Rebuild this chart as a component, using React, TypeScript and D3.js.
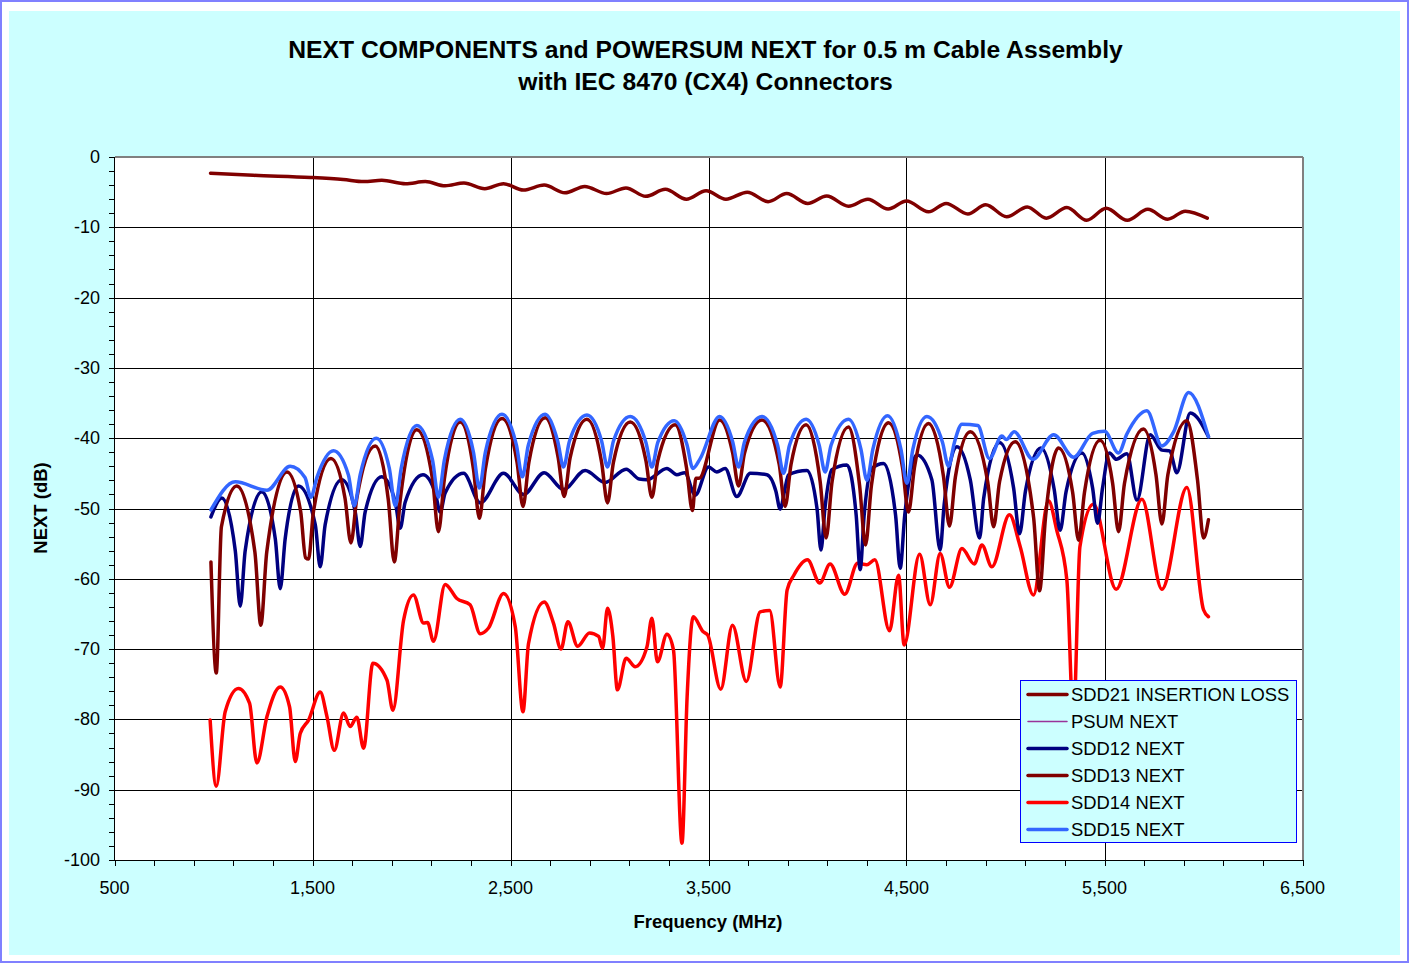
import React from 'react';
import * as d3 from 'd3';

// ---------- DATA (frequency MHz, dB) ----------
const xTicks = [500, 1500, 2500, 3500, 4500, 5500, 6500];
const yTicks = [0, -10, -20, -30, -40, -50, -60, -70, -80, -90, -100];

const sdd21: [number, number][] = [
  [985,-2.3],[1200,-2.6],[1490,-2.9],[1655,-3.2],[1760,-3.5],[1850,-3.3],[1970,-3.8],[2070,-3.5],[2170,-4.1],[2265,-3.7],
  [2370,-4.5],[2465,-3.8],[2565,-4.7],[2670,-4.0],[2775,-5.1],[2875,-4.2],[2985,-5.2],[3083,-4.4],[3183,-5.6],[3282,-4.6],
  [3388,-6.0],[3488,-4.8],[3588,-6.0],[3696,-5.0],[3801,-6.35],[3895,-5.2],[4001,-6.6],[4097,-5.55],[4207,-7.0],[4305,-6.0],
  [4407,-7.4],[4500,-6.25],[4611,-7.8],[4700,-6.6],[4810,-8.1],[4900,-6.8],[5006,-8.5],[5110,-7.1],[5206,-8.7],[5310,-7.2],
  [5410,-9.0],[5509,-7.3],[5615,-9.0],[5719,-7.45],[5819,-8.85],[5908,-7.7],[6019,-8.7]
];

const psumNext: [number, number][] = [];

const sdd12: [number, number][] = [
  [987,-51.2],[1042,-48.5],[1110,-56.0],[1135,-63.9],[1160,-56.0],[1244,-47.6],[1312,-54.3],[1337,-61.4],[1362,-54.3],[1429,-46.8],
  [1514,-52.3],[1539,-58.3],[1564,-52.3],[1648,-45.9],[1716,-50.5],[1741,-55.4],[1766,-50.5],[1850,-45.5],[1918,-49.1],[1943,-52.8],
  [1968,-49.1],[2058,-45.2],[2120,-47.8],[2145,-50.5],[2170,-47.8],[2263,-45.0],[2347,-49.2],[2465,-45.0],[2566,-48.0],[2670,-44.9],
  [2768,-47.3],[2877,-44.6],[2978,-46.3],[3084,-44.4],[3150,-45.8],[3189,-45.9],[3290,-44.3],[3340,-45.2],[3380,-44.9],[3433,-48.1],
  [3500,-44.1],[3542,-44.8],[3584,-44.3],[3643,-48.3],[3711,-45.0],[3795,-45.2],[3840,-47.5],[3862,-50.1],[3884,-47.5],[3904,-45.2],
  [3997,-44.6],[4048,-50.0],[4068,-55.9],[4088,-50.0],[4123,-44.5],[4199,-43.8],[4246,-51.0],[4266,-58.7],[4286,-51.0],[4325,-44.3],
  [4384,-43.6],[4445,-51.0],[4468,-58.5],[4491,-51.0],[4553,-42.4],[4628,-45.9],[4670,-55.9],[4690,-49.5],[4755,-41.2],[4822,-45.9],
  [4869,-54.2],[4890,-48.5],[4970,-40.6],[5041,-47.1],[5071,-53.6],[5101,-47.5],[5179,-41.4],[5246,-47.3],[5276,-53.1],[5306,-47.6],
  [5386,-42.1],[5440,-47.1],[5465,-52.1],[5490,-47.1],[5525,-42.1],[5560,-43.0],[5613,-42.2],[5664,-48.8],[5731,-39.5],[5790,-41.7],
  [5830,-41.8],[5865,-44.9],[5933,-36.4],[6025,-39.8]
];

const sdd13: [number, number][] = [
  [987,-57.6],[1014,-73.4],[1040,-52.6],[1118,-46.8],[1209,-56.2],[1239,-66.6],[1269,-56.2],[1371,-44.8],[1440,-50.4],[1465,-57.0],
  [1480,-57.2],[1505,-50.4],[1593,-42.9],[1664,-48.5],[1694,-54.9],[1724,-48.5],[1817,-41.1],[1883,-48.8],[1913,-57.6],[1943,-48.8],
  [2027,-38.8],[2106,-45.8],[2136,-53.3],[2166,-45.8],[2246,-37.7],[2313,-44.4],[2343,-51.4],[2373,-44.4],[2457,-37.2],[2533,-43.4],
  [2563,-49.7],[2593,-43.4],[2675,-37.1],[2741,-42.8],[2771,-48.3],[2801,-42.8],[2886,-37.3],[2960,-43.4],[2990,-49.2],[3020,-43.4],
  [3105,-37.7],[3184,-43.2],[3214,-48.4],[3244,-43.2],[3332,-38.1],[3389,-44.2],[3419,-50.3],[3436,-45.7],[3452,-45.7],[3556,-37.4],
  [3622,-42.1],[3652,-46.8],[3682,-42.1],[3770,-37.4],[3857,-43.7],[3887,-49.7],[3917,-43.7],[3993,-38.1],[4064,-46.2],[4094,-54.2],
  [4124,-46.2],[4207,-38.4],[4263,-46.7],[4293,-55.2],[4323,-46.7],[4409,-37.8],[4480,-44.2],[4510,-50.5],[4540,-44.2],[4611,-37.9],
  [4687,-45.5],[4717,-52.5],[4747,-45.5],[4822,-39.1],[4910,-46.2],[4940,-52.6],[4970,-46.2],[5049,-40.5],[5142,-51.3],[5172,-61.7],
  [5202,-51.3],[5268,-41.4],[5339,-47.7],[5369,-54.5],[5399,-47.7],[5478,-40.3],[5541,-46.4],[5571,-53.3],[5601,-46.4],[5697,-38.7],
  [5760,-45.2],[5790,-52.2],[5820,-45.2],[5916,-37.5],[5970,-46.0],[6000,-54.2],[6025,-51.6]
];

const sdd14: [number, number][] = [
  [983,-80.1],[1014,-89.5],[1059,-78.9],[1126,-75.6],[1182,-77.7],[1219,-86.2],[1270,-79.6],[1337,-75.4],[1384,-78.2],[1413,-86.0],
  [1438,-82.0],[1480,-80.1],[1539,-76.1],[1573,-79.6],[1610,-84.4],[1657,-79.1],[1690,-81.0],[1724,-79.7],[1758,-84.1],[1805,-72.0],
  [1876,-74.4],[1906,-78.7],[1960,-65.9],[2010,-62.3],[2061,-66.3],[2081,-66.2],[2111,-68.9],[2170,-60.8],[2229,-62.8],[2296,-63.7],
  [2347,-67.8],[2389,-67.0],[2465,-62.1],[2524,-66.8],[2563,-78.9],[2591,-69.2],[2670,-63.3],[2717,-66.3],[2755,-70.0],[2790,-66.1],
  [2839,-69.6],[2899,-67.7],[2945,-68.2],[2965,-69.9],[2990,-64.2],[3017,-68.2],[3040,-75.8],[3084,-71.3],[3130,-72.5],[3189,-69.7],
  [3214,-65.6],[3242,-71.8],[3290,-67.9],[3323,-70.1],[3366,-97.6],[3392,-76.8],[3423,-65.4],[3472,-67.5],[3496,-68.0],[3562,-75.7],
  [3621,-66.6],[3691,-74.6],[3761,-64.7],[3809,-64.5],[3862,-75.4],[3897,-61.6],[3931,-59.5],[4000,-57.3],[4062,-60.6],[4114,-57.9],
  [4188,-62.2],[4253,-57.8],[4300,-58.0],[4340,-57.3],[4414,-67.4],[4460,-59.5],[4488,-69.4],[4566,-56.5],[4620,-63.7],[4670,-56.4],
  [4717,-61.2],[4780,-55.7],[4842,-57.9],[4881,-55.2],[4931,-58.3],[5020,-50.9],[5074,-55.4],[5141,-62.3],[5217,-48.9],[5259,-53.1],
  [5310,-60.2],[5343,-80.0],[5376,-55.4],[5444,-49.4],[5559,-61.5],[5689,-48.7],[5790,-61.5],[5916,-47.0],[6000,-64.4],[6025,-65.4]
];

const sdd15: [number, number][] = [
  [987,-50.2],[1110,-46.2],[1270,-47.4],[1387,-44.0],[1462,-45.6],[1492,-48.4],[1522,-45.6],[1606,-41.8],[1681,-45.2],[1711,-49.6],
  [1741,-45.2],[1822,-40.0],[1888,-44.3],[1918,-49.6],[1948,-44.3],[2027,-38.2],[2106,-43.1],[2136,-48.4],[2166,-43.1],[2246,-37.3],
  [2313,-42.0],[2343,-47.1],[2373,-42.0],[2457,-36.6],[2530,-41.0],[2560,-45.5],[2590,-41.0],[2675,-36.6],[2738,-40.4],[2768,-44.1],
  [2798,-40.4],[2886,-36.7],[2960,-40.4],[2990,-44.1],[3020,-40.4],[3105,-36.9],[3184,-40.6],[3214,-44.1],[3244,-40.6],[3327,-37.5],
  [3391,-40.9],[3421,-44.3],[3458,-42.9],[3556,-36.9],[3622,-40.5],[3652,-44.1],[3682,-40.5],[3770,-36.9],[3849,-41.0],[3879,-45.0],
  [3909,-41.0],[3993,-37.3],[4059,-41.0],[4089,-44.8],[4119,-41.0],[4207,-37.3],[4270,-41.6],[4300,-46.0],[4330,-41.6],[4404,-36.8],
  [4472,-41.6],[4502,-46.4],[4532,-41.6],[4603,-36.9],[4682,-40.6],[4712,-44.0],[4742,-40.6],[4780,-38.0],[4860,-38.2],[4919,-42.9],
  [4982,-39.7],[5004,-40.2],[5044,-39.1],[5138,-43.0],[5243,-39.5],[5344,-42.7],[5440,-39.3],[5500,-39.0],[5571,-42.1],[5613,-39.4],
  [5714,-36.1],[5790,-41.1],[5849,-39.1],[5925,-33.5],[6025,-39.8]
];

const seriesNames = ['SDD21 INSERTION LOSS', 'PSUM NEXT', 'SDD12 NEXT', 'SDD13 NEXT', 'SDD14 NEXT', 'SDD15 NEXT'];
const seriesData = [sdd21, psumNext, sdd12, sdd13, sdd14, sdd15];
const seriesColors = ['#800000', '#993399', '#000080', '#800000', '#ff0000', '#3366ff'];
const drawOrder = [0, 4, 2, 3, 1, 5];

const titleLines = ['NEXT COMPONENTS and POWERSUM NEXT for 0.5 m Cable Assembly', 'with IEC 8470 (CX4) Connectors'];

const FONT = '"Liberation Sans", Arial, sans-serif';

export default function App() {
  const W = 1409, H = 963;
  const pl = 114.5, pr = 1302.5, pt = 157, pb = 860;
  const x = d3.scaleLinear().domain([500, 6500]).range([pl, pr]);
  const y = d3.scaleLinear().domain([-100, 0]).range([pb, pt]);
  const line = d3.line<[number, number]>().x(d => x(d[0])).y(d => y(d[1])).curve(d3.curveMonotoneX);
  const xMinor = d3.range(500, 6501, 200);
  const yMinor = d3.range(-100, 1, 2);
  const fmt = d3.format(',');

  const legX = 1020.5, legY = 680.5, legW = 276, legH = 162;
  const rowH = 27;

  return (
    <div style={{ position: 'absolute', left: 0, top: 0, width: W, height: H }}>
      <svg width={W} height={H} style={{ display: 'block', fontFamily: FONT }}>
        <rect x={0} y={0} width={W} height={H} fill="#ffffff" />
        <rect x={1} y={1} width={W - 2} height={H - 2} fill="none" stroke="#8080ff" strokeWidth={2} />
        <rect x={9} y={11} width={1391} height={944} fill="#ccffff" />
        <rect x={pl} y={pt} width={pr - pl} height={pb - pt} fill="#ffffff" />
        {/* gridlines */}
        <g shapeRendering="crispEdges">
          {xTicks.slice(1, -1).map(t => (
            <line key={'gx' + t} x1={Math.round(x(t)) + 0.5} x2={Math.round(x(t)) + 0.5} y1={pt} y2={pb} stroke="#000" strokeWidth={1} />
          ))}
          {yTicks.slice(1, -1).map(t => (
            <line key={'gy' + t} x1={pl} x2={pr} y1={Math.round(y(t)) + 0.5} y2={Math.round(y(t)) + 0.5} stroke="#000" strokeWidth={1} />
          ))}
          <line x1={pl} x2={pr} y1={pt} y2={pt} stroke="#808080" strokeWidth={2} />
          <line x1={pr} x2={pr} y1={pt} y2={pb} stroke="#808080" strokeWidth={2} />
        </g>
        {/* series */}
        <g fill="none" strokeLinejoin="round" strokeLinecap="round">
          {drawOrder.map(i => seriesData[i].length > 0 ? (
            <path key={'s' + i} d={line(seriesData[i]) || ''} stroke={seriesColors[i]} strokeWidth={3.5} />
          ) : null)}
        </g>
        {/* axes */}
        <g shapeRendering="crispEdges" stroke="#000" strokeWidth={1}>
          <line x1={pl} x2={pl} y1={pt} y2={pb + 0.5} />
          <line x1={pl} x2={pr} y1={pb + 0.5} y2={pb + 0.5} />
          {yMinor.map(t => (
            <line key={'ym' + t} x1={pl - 6} x2={pl} y1={Math.round(y(t)) + 0.5} y2={Math.round(y(t)) + 0.5} />
          ))}
          {xMinor.map(t => (
            <line key={'xm' + t} x1={Math.round(x(t)) + 0.5} x2={Math.round(x(t)) + 0.5} y1={pb} y2={pb + 6} />
          ))}
        </g>
        {/* tick labels */}
        <g fontSize={18} fill="#000">
          {yTicks.map(t => (
            <text key={'yl' + t} x={100} y={y(t)} textAnchor="end" dominantBaseline="central">{t}</text>
          ))}
          {xTicks.map(t => (
            <text key={'xl' + t} x={x(t)} y={894} textAnchor="middle">{fmt(t)}</text>
          ))}
        </g>
        {/* titles */}
        <g fontWeight="bold" fill="#000">
          <text x={705.5} y={58} textAnchor="middle" fontSize={24.7}>{titleLines[0]}</text>
          <text x={705.5} y={90} textAnchor="middle" fontSize={24.7}>{titleLines[1]}</text>
          <text x={708} y={928} textAnchor="middle" fontSize={18.5}>Frequency (MHz)</text>
          <text transform="translate(47,508) rotate(-90)" textAnchor="middle" fontSize={18.5}>NEXT (dB)</text>
        </g>
        {/* legend */}
        <g>
          <rect x={legX} y={legY} width={legW} height={legH} fill="#ccffff" stroke="#0000ff" strokeWidth={1} />
          {seriesNames.map((n, i) => {
            const cy = legY + 14 + i * rowH;
            return (
              <g key={'lg' + i}>
                <line x1={legX + 7.5} x2={legX + 46.5} y1={cy} y2={cy} stroke={seriesColors[i]} strokeWidth={i === 1 ? 1.5 : 3.5} strokeLinecap="round" />
                <text x={legX + 50.5} y={cy} dominantBaseline="central" fontSize={18.4} fill="#000">{n}</text>
              </g>
            );
          })}
        </g>
      </svg>
    </div>
  );
}
